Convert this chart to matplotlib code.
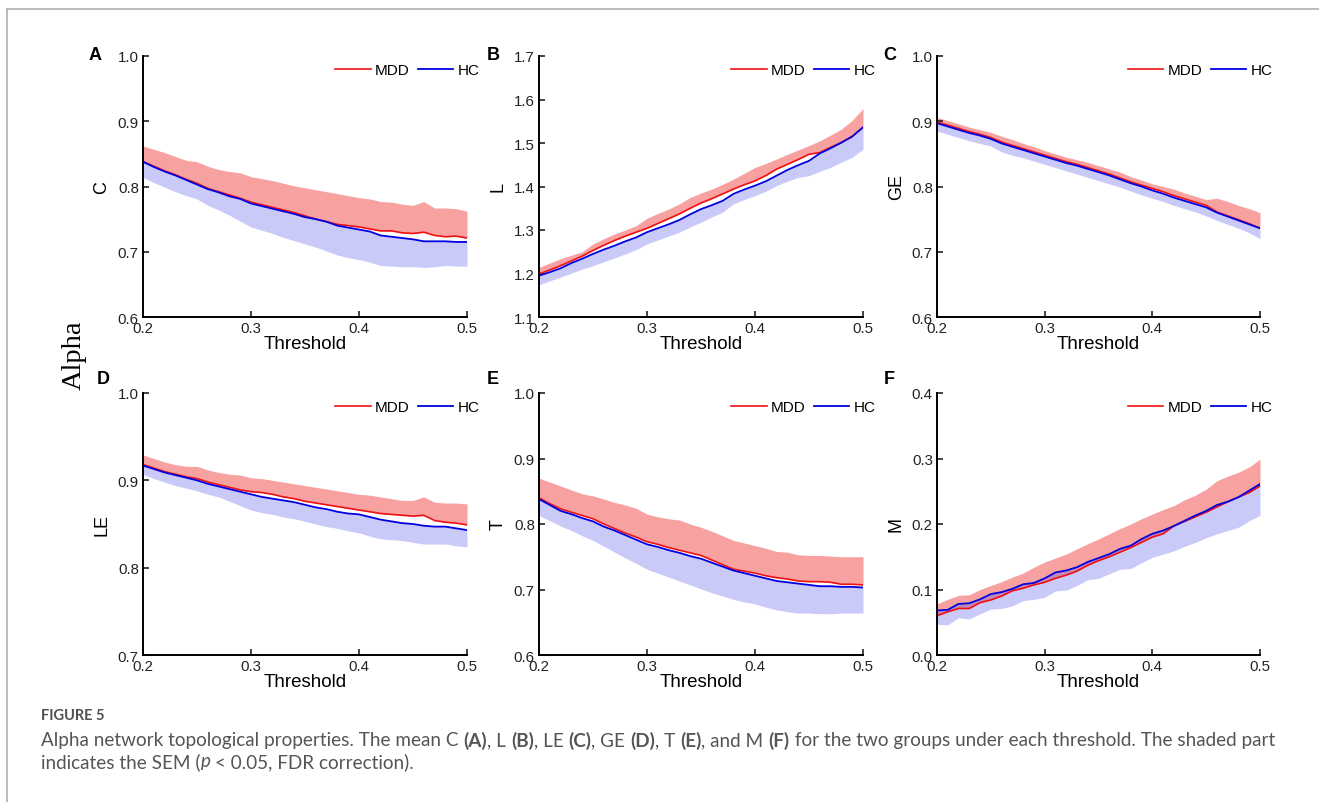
import numpy as np
import matplotlib
matplotlib.use("Agg")
import matplotlib.pyplot as plt
from matplotlib.lines import Line2D

plt.rcParams['font.family'] = ['Liberation Sans', 'DejaVu Sans']

# thresholds 0.20 ... 0.50
threshold = [0.20, 0.21, 0.22, 0.23, 0.24, 0.25, 0.26, 0.27, 0.28, 0.29, 0.30,
             0.31, 0.32, 0.33, 0.34, 0.35, 0.36, 0.37, 0.38, 0.39, 0.40,
             0.41, 0.42, 0.43, 0.44, 0.45, 0.46, 0.47, 0.48, 0.49, 0.50]

# A - C
c_mdd = [0.838, 0.831, 0.824, 0.818, 0.811, 0.805, 0.797, 0.792, 0.787, 0.782, 0.776,
         0.772, 0.768, 0.764, 0.760, 0.755, 0.750, 0.746, 0.742, 0.740, 0.738,
         0.735, 0.732, 0.732, 0.729, 0.728, 0.730, 0.725, 0.723, 0.724, 0.721]
c_mdd_up = [0.862, 0.857, 0.852, 0.846, 0.840, 0.838, 0.831, 0.826, 0.823, 0.821, 0.815,
            0.812, 0.809, 0.805, 0.801, 0.798, 0.795, 0.792, 0.789, 0.786, 0.783,
            0.781, 0.777, 0.776, 0.773, 0.771, 0.777, 0.767, 0.767, 0.766, 0.762]
c_hc = [0.838, 0.830, 0.823, 0.817, 0.810, 0.803, 0.796, 0.791, 0.785, 0.781, 0.774,
        0.770, 0.766, 0.762, 0.758, 0.753, 0.750, 0.746, 0.740, 0.737, 0.734,
        0.731, 0.725, 0.723, 0.721, 0.719, 0.716, 0.716, 0.716, 0.715, 0.715]
c_hc_lo = [0.814, 0.806, 0.799, 0.792, 0.786, 0.781, 0.771, 0.764, 0.756, 0.747, 0.738,
           0.733, 0.728, 0.722, 0.717, 0.712, 0.707, 0.701, 0.695, 0.691, 0.688,
           0.684, 0.679, 0.678, 0.677, 0.677, 0.676, 0.677, 0.679, 0.678, 0.678]

# B - L
l_mdd = [1.199, 1.208, 1.218, 1.229, 1.240, 1.253, 1.265, 1.276, 1.286, 1.295, 1.304,
         1.315, 1.326, 1.337, 1.350, 1.362, 1.372, 1.383, 1.394, 1.404, 1.413,
         1.425, 1.440, 1.451, 1.462, 1.474, 1.478, 1.490, 1.501, 1.515, 1.536]
l_mdd_up = [1.214, 1.224, 1.234, 1.242, 1.250, 1.268, 1.280, 1.291, 1.300, 1.310, 1.327,
            1.338, 1.348, 1.360, 1.375, 1.385, 1.394, 1.405, 1.417, 1.430, 1.444,
            1.453, 1.463, 1.474, 1.484, 1.494, 1.505, 1.518, 1.532, 1.552, 1.579]
l_hc = [1.195, 1.203, 1.212, 1.224, 1.234, 1.245, 1.255, 1.264, 1.274, 1.283, 1.295,
        1.304, 1.313, 1.323, 1.336, 1.348, 1.357, 1.367, 1.383, 1.393, 1.402,
        1.412, 1.425, 1.438, 1.449, 1.459, 1.476, 1.488, 1.501, 1.515, 1.536]
l_hc_lo = [1.174, 1.183, 1.192, 1.201, 1.210, 1.218, 1.227, 1.236, 1.245, 1.255, 1.268,
           1.277, 1.286, 1.295, 1.307, 1.318, 1.330, 1.341, 1.360, 1.370, 1.379,
           1.389, 1.402, 1.412, 1.421, 1.425, 1.435, 1.444, 1.456, 1.467, 1.486]

# C - GE
ge_mdd = [0.899, 0.894, 0.889, 0.884, 0.880, 0.875, 0.868, 0.863, 0.858, 0.853, 0.848,
          0.843, 0.838, 0.834, 0.829, 0.824, 0.819, 0.813, 0.807, 0.802, 0.797,
          0.792, 0.786, 0.781, 0.776, 0.771, 0.761, 0.755, 0.749, 0.743, 0.736]
ge_mdd_up = [0.906, 0.901, 0.896, 0.891, 0.887, 0.883, 0.877, 0.872, 0.866, 0.861, 0.855,
             0.850, 0.845, 0.841, 0.837, 0.832, 0.827, 0.822, 0.815, 0.810, 0.804,
             0.800, 0.796, 0.790, 0.785, 0.780, 0.782, 0.777, 0.771, 0.766, 0.760]
ge_hc = [0.897, 0.892, 0.887, 0.882, 0.878, 0.873, 0.866, 0.861, 0.856, 0.851, 0.846,
         0.841, 0.836, 0.832, 0.827, 0.822, 0.817, 0.811, 0.805, 0.800, 0.794,
         0.789, 0.783, 0.778, 0.773, 0.768, 0.760, 0.754, 0.748, 0.742, 0.736]
ge_hc_lo = [0.885, 0.880, 0.875, 0.870, 0.866, 0.862, 0.853, 0.848, 0.844, 0.839, 0.834,
            0.829, 0.824, 0.819, 0.814, 0.809, 0.804, 0.799, 0.793, 0.787, 0.782,
            0.777, 0.771, 0.766, 0.761, 0.755, 0.748, 0.742, 0.736, 0.729, 0.720]

# D - LE
le_mdd = [0.918, 0.914, 0.910, 0.907, 0.904, 0.902, 0.898, 0.895, 0.892, 0.889, 0.887,
          0.886, 0.884, 0.881, 0.879, 0.876, 0.874, 0.872, 0.870, 0.868, 0.866,
          0.864, 0.862, 0.861, 0.860, 0.859, 0.860, 0.854, 0.852, 0.851, 0.849]
le_mdd_up = [0.929, 0.925, 0.921, 0.918, 0.916, 0.916, 0.912, 0.909, 0.907, 0.906, 0.903,
             0.902, 0.900, 0.898, 0.896, 0.894, 0.892, 0.890, 0.888, 0.886, 0.884,
             0.883, 0.881, 0.879, 0.877, 0.877, 0.881, 0.875, 0.874, 0.874, 0.873]
le_hc = [0.917, 0.913, 0.909, 0.906, 0.903, 0.900, 0.896, 0.893, 0.890, 0.887, 0.884,
         0.881, 0.879, 0.877, 0.875, 0.872, 0.869, 0.867, 0.864, 0.862, 0.861,
         0.858, 0.855, 0.853, 0.851, 0.850, 0.848, 0.847, 0.847, 0.845, 0.843]
le_hc_lo = [0.907, 0.902, 0.898, 0.894, 0.891, 0.888, 0.884, 0.881, 0.876, 0.871, 0.866,
            0.863, 0.861, 0.858, 0.856, 0.853, 0.850, 0.847, 0.845, 0.842, 0.840,
            0.836, 0.833, 0.832, 0.831, 0.829, 0.827, 0.827, 0.827, 0.825, 0.824]

# E - T
t_mdd = [0.840, 0.831, 0.823, 0.818, 0.813, 0.808, 0.800, 0.793, 0.786, 0.780, 0.773,
         0.769, 0.764, 0.760, 0.756, 0.752, 0.745, 0.738, 0.731, 0.728, 0.725,
         0.721, 0.718, 0.716, 0.713, 0.712, 0.712, 0.711, 0.708, 0.708, 0.707]
t_mdd_up = [0.870, 0.864, 0.858, 0.852, 0.846, 0.843, 0.838, 0.833, 0.829, 0.824, 0.815,
            0.811, 0.808, 0.806, 0.800, 0.795, 0.789, 0.782, 0.775, 0.771, 0.767,
            0.763, 0.758, 0.757, 0.753, 0.752, 0.752, 0.751, 0.750, 0.750, 0.750]
t_hc = [0.838, 0.829, 0.820, 0.815, 0.809, 0.804, 0.796, 0.790, 0.783, 0.776, 0.769,
        0.765, 0.760, 0.756, 0.751, 0.747, 0.741, 0.735, 0.729, 0.725, 0.721,
        0.717, 0.713, 0.711, 0.709, 0.707, 0.705, 0.705, 0.704, 0.704, 0.703]
t_hc_lo = [0.813, 0.805, 0.797, 0.790, 0.782, 0.775, 0.766, 0.757, 0.748, 0.740, 0.731,
           0.725, 0.719, 0.713, 0.707, 0.701, 0.695, 0.690, 0.685, 0.681, 0.678,
           0.673, 0.669, 0.666, 0.664, 0.664, 0.663, 0.663, 0.664, 0.664, 0.664]

# F - M
m_mdd = [0.060, 0.066, 0.071, 0.071, 0.080, 0.084, 0.090, 0.098, 0.102, 0.107, 0.111,
         0.117, 0.122, 0.128, 0.137, 0.144, 0.150, 0.157, 0.164, 0.172, 0.180,
         0.185, 0.197, 0.204, 0.211, 0.218, 0.226, 0.234, 0.241, 0.248, 0.258]
m_mdd_up = [0.078, 0.085, 0.091, 0.092, 0.100, 0.106, 0.112, 0.119, 0.125, 0.134, 0.142,
            0.148, 0.154, 0.162, 0.170, 0.177, 0.185, 0.193, 0.200, 0.208, 0.215,
            0.222, 0.228, 0.237, 0.244, 0.253, 0.266, 0.273, 0.279, 0.287, 0.299]
m_hc = [0.068, 0.069, 0.078, 0.079, 0.085, 0.093, 0.096, 0.101, 0.108, 0.110, 0.117,
        0.126, 0.129, 0.134, 0.142, 0.148, 0.154, 0.162, 0.167, 0.177, 0.185,
        0.190, 0.197, 0.205, 0.213, 0.220, 0.229, 0.234, 0.241, 0.251, 0.261]
m_hc_lo = [0.047, 0.046, 0.057, 0.055, 0.063, 0.070, 0.071, 0.075, 0.083, 0.085, 0.088,
           0.098, 0.099, 0.106, 0.115, 0.117, 0.124, 0.131, 0.132, 0.141, 0.149,
           0.154, 0.159, 0.166, 0.172, 0.179, 0.185, 0.190, 0.195, 0.205, 0.213]

panel_letters = ['A', 'B', 'C', 'D', 'E', 'F']
ylabels = ['C', 'L', 'GE', 'LE', 'T', 'M']
ylims = [(0.6, 1.0), (1.1, 1.7), (0.6, 1.0), (0.7, 1.0), (0.6, 1.0), (0.0, 0.4)]
yticks = [[0.6, 0.7, 0.8, 0.9, 1.0], [1.1, 1.2, 1.3, 1.4, 1.5, 1.6, 1.7],
          [0.6, 0.7, 0.8, 0.9, 1.0], [0.7, 0.8, 0.9, 1.0],
          [0.6, 0.7, 0.8, 0.9, 1.0], [0.0, 0.1, 0.2, 0.3, 0.4]]
series = [(c_mdd, c_mdd_up, c_hc, c_hc_lo),
          (l_mdd, l_mdd_up, l_hc, l_hc_lo),
          (ge_mdd, ge_mdd_up, ge_hc, ge_hc_lo),
          (le_mdd, le_mdd_up, le_hc, le_hc_lo),
          (t_mdd, t_mdd_up, t_hc, t_hc_lo),
          (m_mdd, m_mdd_up, m_hc, m_hc_lo)]

W, H = 1319, 803
fig = plt.figure(figsize=(W / 100, H / 100), dpi=100)

# pixel boxes of the axes (left, right, top, bottom)
col_x = [(143, 467), (539, 863), (937, 1260)]
row_y = [(57, 318), (394, 656)]
letter_xy = [(95, 55), (493, 55), (890, 55), (103, 380), (493, 380), (889, 380)]

RED = '#f01010'
BLUE = '#0000e0'

for i in range(6):
    r, c = divmod(i, 3)
    x0, x1 = col_x[c]
    y0, y1 = row_y[r]
    ax = fig.add_axes([x0 / W, 1 - y1 / H, (x1 - x0) / W, (y1 - y0) / H])
    mdd, mdd_up, hc, hc_lo = [np.array(s) for s in series[i]]
    ax.fill_between(threshold, mdd, mdd_up, color='#f7a1a1', lw=0)
    ax.plot(threshold, mdd, color=RED, lw=1.2, label='MDD')
    ax.fill_between(threshold, hc_lo, hc, color='#5050ee', alpha=0.3, lw=0)
    ax.plot(threshold, hc, color=BLUE, lw=1.3, label='HC')

    ax.set_xlim(0.2, 0.5)
    ax.set_ylim(*ylims[i])
    ax.set_xticks([0.2, 0.3, 0.4, 0.5])
    ax.set_xticklabels(['0.2', '0.3', '0.4', '0.5'])
    ax.set_yticks(yticks[i])
    ax.set_yticklabels(['%.1f' % v for v in yticks[i]])
    for s in ['top', 'right']:
        ax.spines[s].set_visible(False)
    for s in ['left', 'bottom']:
        ax.spines[s].set_linewidth(1.4)
    ax.tick_params(direction='in', length=4, width=1.2, labelsize=10.8,
                   colors='#222222', pad=3)
    ax.set_xlabel('Threshold', fontsize=13.5, labelpad=0)
    ax.set_ylabel(ylabels[i], fontsize=13)
    ax.yaxis.set_label_coords(-0.1, 0.5)
    ax.legend(loc='center right', bbox_to_anchor=(1.04, 0.946), ncol=2,
              frameon=False, fontsize=11, handlelength=2.3,
              handletextpad=0.3, columnspacing=0.55, borderpad=0,
              borderaxespad=0)
    lx, ly = letter_xy[i]
    fig.text(lx / W, 1 - ly / H, panel_letters[i], fontsize=13,
             fontweight='bold', ha='center', va='center')

fig.text(74 / W, 1 - 355 / H, 'Alpha', rotation=90, fontsize=20.5,
         family='Liberation Serif', ha='center', va='center')

# frame lines
fig.add_artist(Line2D([7 / W, 1], [1 - 10 / H, 1 - 10 / H], color='#b0b0b0', lw=1.2))
fig.add_artist(Line2D([7 / W, 7 / W], [0, 1 - 10 / H], color='#b0b0b0', lw=1.2))

# caption
cap_font = ['Lato', 'DejaVu Sans']
cap_size = 13.6
fig.text(41 / W, 1 - 716 / H, 'FIGURE 5', fontsize=10.5, fontweight='bold',
         color='#505050', family=cap_font, va='center')

renderer = fig.canvas.get_renderer()


def write_runs(x, y_px, runs):
    # put text pieces one after the other on the same line
    for txt, weight, style in runs:
        t = fig.text(x / W, 1 - y_px / H, txt, fontsize=cap_size, color='#555555',
                     family=cap_font, fontweight=weight, style=style, va='center')
        x += t.get_window_extent(renderer).width


n, b = 'normal', 'bold'
line1 = [('Alpha network topological properties. The mean C ', n, n), ('(A)', b, n),
         (', L ', n, n), ('(B)', b, n), (', LE ', n, n), ('(C)', b, n),
         (', GE ', n, n), ('(D)', b, n), (', T ', n, n), ('(E)', b, n),
         (', and M ', n, n), ('(F)', b, n),
         (' for the two groups under each threshold. The shaded part', n, n)]
line2 = [('indicates the SEM (', n, n), ('p', n, 'italic'),
         (' < 0.05, FDR correction).', n, n)]
write_runs(41, 741, line1)
write_runs(41, 762, line2)

fig.savefig('out.png', dpi=100)
